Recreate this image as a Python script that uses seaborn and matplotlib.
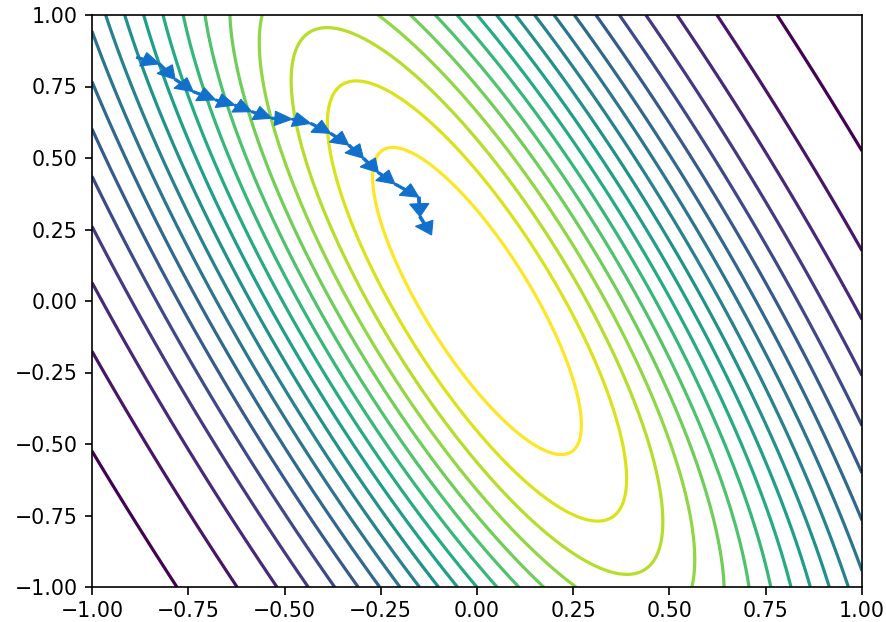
import numpy as np
import matplotlib
matplotlib.use("Agg")
import matplotlib.pyplot as plt
import seaborn as sns

# Gaussian-shaped surface exp(-(a*x^2 + b*x*y + c*y^2)) on the unit square
coef_a = 2.0
coef_b = 1.63
coef_c = 0.51
contour_levels = [0.05, 0.10, 0.15, 0.20, 0.25, 0.30, 0.35, 0.40, 0.45, 0.50,
                  0.55, 0.60, 0.65, 0.70, 0.75, 0.80, 0.85, 0.90, 0.95]

# Iterates of the optimiser path
path_x = [-0.884, -0.825, -0.784, -0.737, -0.679, -0.629, -0.585, -0.533, -0.480,
          -0.432, -0.380, -0.333, -0.295, -0.256, -0.213, -0.151, -0.148, -0.118]
path_y = [0.852, 0.829, 0.775, 0.732, 0.703, 0.685, 0.662, 0.639, 0.636,
          0.621, 0.586, 0.545, 0.499, 0.449, 0.409, 0.363, 0.295, 0.231]

tick_values = [-1.0, -0.75, -0.5, -0.25, 0.0, 0.25, 0.5, 0.75, 1.0]

sns.set_theme(style="ticks", rc={
    "axes.edgecolor": "black",
    "axes.linewidth": 1.2,
    "xtick.major.size": 5.4,
    "ytick.major.size": 5.4,
    "xtick.major.width": 1.2,
    "ytick.major.width": 1.2,
    "xtick.major.pad": 5,
    "ytick.major.pad": 5,
    "xtick.labelsize": 14.8,
    "ytick.labelsize": 14.8,
    "xtick.color": "black",
    "ytick.color": "black",
    "axes.unicode_minus": True,
})
plt.rcParams["font.family"] = ["DejaVu Sans"]

fig = plt.figure(figsize=(8.87, 6.22), dpi=100)
ax = fig.add_axes([92 / 887, 35 / 622, 770 / 887, 572 / 622])

grid = np.linspace(-1, 1, 500)
X, Y = np.meshgrid(grid, grid)
Z = np.exp(-(coef_a * X**2 + coef_b * X * Y + coef_c * Y**2))

cmap = sns.color_palette("viridis", as_cmap=True)
ax.contour(X, Y, Z, levels=contour_levels, cmap=cmap, linewidths=2.3)

arrow_color = "#1170cc"
for i in range(len(path_x) - 1):
    ax.arrow(path_x[i], path_y[i],
             path_x[i + 1] - path_x[i], path_y[i + 1] - path_y[i],
             width=0.007, head_width=0.05, head_length=0.045,
             length_includes_head=True, fc=arrow_color, ec=arrow_color,
             linewidth=0.8, zorder=5)

ax.set_xlim(-1, 1)
ax.set_ylim(-1, 1)
ax.set_xticks(tick_values)
ax.set_yticks(tick_values)
fmt = matplotlib.ticker.FuncFormatter(lambda v, pos: f"{v:.2f}".replace("-", "\u2212"))
ax.xaxis.set_major_formatter(fmt)
ax.yaxis.set_major_formatter(fmt)
ax.grid(False)

fig.savefig("out.png", dpi=100, facecolor="white")
